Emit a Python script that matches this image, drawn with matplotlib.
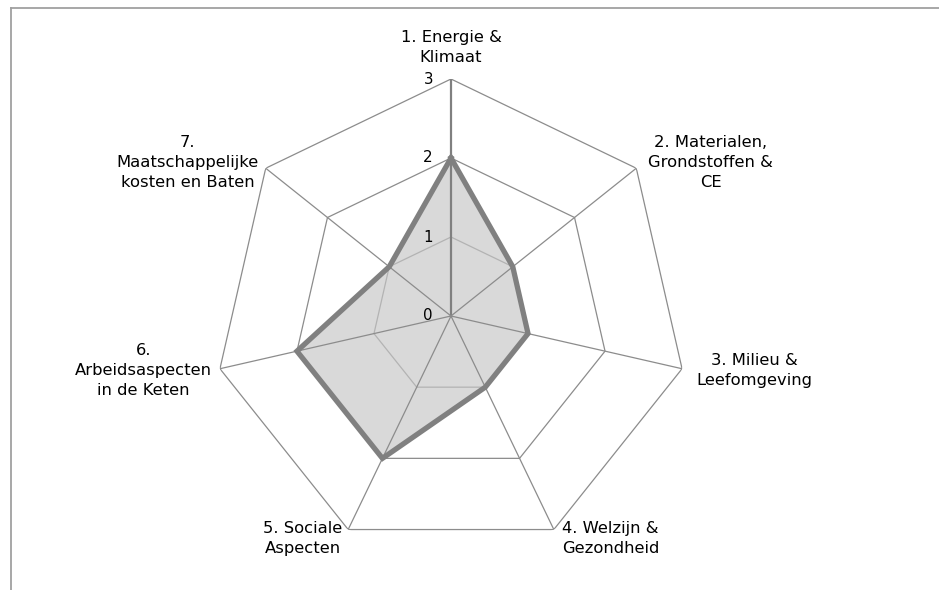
import numpy as np
import matplotlib
matplotlib.use("Agg")
import matplotlib.pyplot as plt
from matplotlib.lines import Line2D

categories = [
    "1. Energie &\nKlimaat",
    "2. Materialen,\nGrondstoffen &\nCE",
    "3. Milieu &\nLeefomgeving",
    "4. Welzijn &\nGezondheid",
    "5. Sociale\nAspecten",
    "6.\nArbeidsaspecten\nin de Keten",
    "7.\nMaatschappelijke\nkosten en Baten",
]
values = [2, 1, 1, 1, 2, 2, 1]
tick_values = [0, 1, 2, 3]
tick_labels = ["0", "1", "2", "3"]

plt.rcParams['font.family'] = ['DejaVu Sans']
FS = 11.8

W, H = 939, 590
fig = plt.figure(figsize=(W / 100, H / 100), dpi=100)
cx, cy, R = 451, 316, 237
ax = fig.add_axes([(cx - R) / W, (H - cy - R) / H, 2 * R / W, 2 * R / H], projection='polar')
ax.set_theta_offset(np.pi / 2)
ax.set_theta_direction(-1)
rmax = tick_values[-1]
ax.set_ylim(0, rmax)
ax.grid(False)
ax.spines['polar'].set_visible(False)
ax.set_xticks([])
ax.set_yticks([])
ax.patch.set_alpha(0)

n = len(categories)
theta = np.arange(n) * 2 * np.pi / n
theta_c = np.append(theta, theta[0])

# fill
vals_c = np.append(values, values[0])
ax.fill(theta_c, vals_c, color='#d9d9d9', zorder=1, lw=0)

# grid polygons
for t in tick_values[1:]:
    col = '#b3b3b3' if t == 1 else '#8c8c8c'
    ax.plot(theta_c, [t] * (n + 1), color=col, lw=0.9, zorder=2)
# spokes
for i, th in enumerate(theta):
    if i == 0:
        ax.plot([th, th], [0, rmax], color='#808080', lw=1.6, zorder=2)
    else:
        ax.plot([th, th], [0, rmax], color='#8c8c8c', lw=0.9, zorder=2)

# series line
ax.plot(theta_c, vals_c, color='#808080', lw=3.8, zorder=3, solid_joinstyle='miter')

# tick labels
for t, lab in zip(tick_values, tick_labels):
    ax.annotate(lab, xy=(0, t), xytext=(-18, 0), textcoords='offset pixels',
                ha='right', va='center', fontsize=FS - 1, color='#000000')

# category labels
offsets = [
    (0, 14, 'center', 'bottom'),
    (12, 6, 'left', 'center'),
    (14, -2, 'left', 'center'),
    (8, -9, 'left', 'center'),
    (-6, -9, 'right', 'center'),
    (-8, -2, 'right', 'center'),
    (-7, 6, 'right', 'center'),
]
for th, lab, (dx, dy, ha, va) in zip(theta, categories, offsets):
    ax.annotate(lab, xy=(th, rmax), xytext=(dx, dy), textcoords='offset pixels',
                ha=ha, va=va, multialignment='center', fontsize=FS,
                linespacing=1.4, color='#000000', annotation_clip=False)

# chart area border (top and left)
fig.add_artist(Line2D([11 / W, 1.0], [1 - 7.5 / H, 1 - 7.5 / H], transform=fig.transFigure,
                      color='#a0a0a0', lw=1.3))
fig.add_artist(Line2D([11 / W, 11 / W], [0, 1 - 7.5 / H], transform=fig.transFigure,
                      color='#a0a0a0', lw=1.3))

fig.savefig('out.png', dpi=100)
